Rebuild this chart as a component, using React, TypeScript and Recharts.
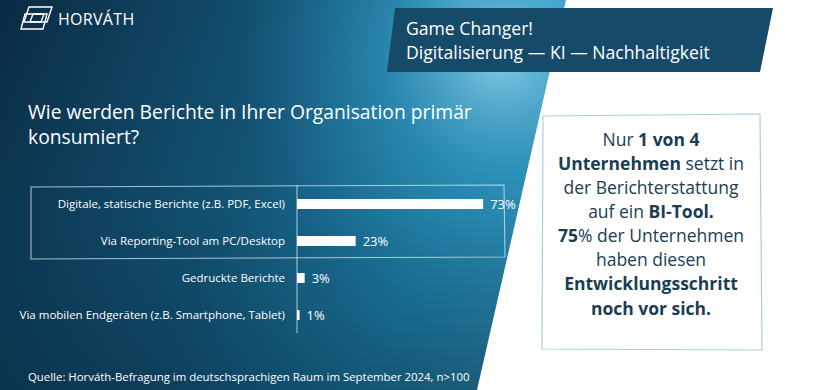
import { Bar, BarChart, LabelList, XAxis, YAxis } from "recharts";

const FONT = "'Open Sans', 'Noto Sans', sans-serif";

const categories = [
  "Digitale, statische Berichte (z.B. PDF, Excel)",
  "Via Reporting-Tool am PC/Desktop",
  "Gedruckte Berichte",
  "Via mobilen Endgeräten (z.B. Smartphone, Tablet)",
];
const shares = [73, 23, 3, 1];

const rows = categories.map((category, i) => ({ category, share: shares[i] }));

function CategoryTick({ x, y, payload }: { x?: number; y?: number; payload?: { value: string } }) {
  return (
    <text
      x={x}
      y={y}
      dy="0.36em"
      textAnchor="end"
      fill="#ffffff"
      fontSize={11.5}
      fontFamily={FONT}
    >
      {payload?.value}
    </text>
  );
}

function Backdrop() {
  return (
    <svg width={820} height={390} style={{ position: "absolute", left: 0, top: 0 }}>
      <defs>
        <linearGradient id="bgBase" x1="0" y1="0" x2="1" y2="0.25">
          <stop offset="0%" stopColor="#0a2a42" />
          <stop offset="40%" stopColor="#155b7e" />
          <stop offset="65%" stopColor="#2290bb" />
          <stop offset="100%" stopColor="#4db6dc" />
        </linearGradient>
        <radialGradient id="bgGlow" cx="500" cy="60" r="260" gradientUnits="userSpaceOnUse">
          <stop offset="0%" stopColor="#8fd3ee" stopOpacity={0.95} />
          <stop offset="45%" stopColor="#3aa6d0" stopOpacity={0.5} />
          <stop offset="100%" stopColor="#2a8fb8" stopOpacity={0} />
        </radialGradient>
        <linearGradient id="bgShade" x1="0" y1="0" x2="0" y2="1">
          <stop offset="0%" stopColor="#06243a" stopOpacity={0} />
          <stop offset="55%" stopColor="#06243a" stopOpacity={0.15} />
          <stop offset="100%" stopColor="#06243a" stopOpacity={0.55} />
        </linearGradient>
      </defs>
      <rect x={0} y={0} width={820} height={390} fill="url(#bgBase)" />
      <rect x={0} y={0} width={820} height={390} fill="url(#bgGlow)" />
      <rect x={0} y={0} width={820} height={390} fill="url(#bgShade)" />
      <polygon points="566,0 820,0 820,390 477,390" fill="#ffffff" />

      {/* logo */}
      <g fill="none" stroke="#ffffff" strokeWidth={1.4}>
        <polygon points="29,7 52,7 47,22 24,22" />
        <polygon points="25,14 47,14 43,29 21,29" />
        <polygon points="33,14 44,14 41,22 30,22" />
      </g>
      <text x={58} y={25} fill="#ffffff" fontFamily={FONT} fontSize={16} letterSpacing={0.3}>
        HORVÁTH
      </text>

      {/* banner */}
      <polygon points="395,8 773,8 760,72 387,72" fill="#154a69" />
      <text x={406} y={35} fill="#ffffff" fontFamily={FONT} fontSize={17.6}>
        Game Changer!
      </text>
      <text x={406} y={59} fill="#ffffff" fontFamily={FONT} fontSize={17.6}>
        Digitalisierung — KI — Nachhaltigkeit
      </text>

      {/* question */}
      <text x={28} y={119} fill="#ffffff" fontFamily={FONT} fontSize={19.3}>
        Wie werden Berichte in Ihrer Organisation primär
      </text>
      <text x={28} y={144} fill="#ffffff" fontFamily={FONT} fontSize={19.3}>
        konsumiert?
      </text>

      {/* highlight around the two digital answers */}
      <path
        d="M31,187 L504,185 L505,257 L31,259 Z"
        fill="none"
        stroke="rgba(215,235,245,0.75)"
        strokeWidth={1.1}
      />

      {/* key message box */}
      <path d="M543,116 L760,114 L762,350 L542,349 Z" fill="#ffffff" stroke="#a6cfe1" strokeWidth={1.2} />
      <g fontFamily={FONT} fontSize={17.5} fill="#1b3d52" textAnchor="middle">
        <text x={651} y={146}>
          Nur <tspan fontWeight={700}>1 von 4</tspan>
        </text>
        <text x={651} y={170}>
          <tspan fontWeight={700}>Unternehmen</tspan> setzt in
        </text>
        <text x={651} y={194}>der Berichterstattung</text>
        <text x={651} y={218}>
          auf ein <tspan fontWeight={700}>BI-Tool.</tspan>
        </text>
        <text x={651} y={242}>
          <tspan fontWeight={700}>75</tspan>% der Unternehmen
        </text>
        <text x={651} y={266}>haben diesen</text>
        <text x={651} y={290} fontWeight={700}>Entwicklungsschritt</text>
        <text x={651} y={315} fontWeight={700}>noch vor sich.</text>
      </g>

      <text x={28} y={381} fill="#ffffff" fontFamily={FONT} fontSize={11.4}>
        Quelle: Horváth-Befragung im deutschsprachigen Raum im September 2024, n&gt;100
      </text>
    </svg>
  );
}

export default function App() {
  return (
    <div
      style={{
        position: "absolute",
        left: 0,
        top: 0,
        width: 820,
        height: 390,
        overflow: "hidden",
        fontFamily: FONT,
      }}
    >
      <style>{"body{margin:0}"}</style>
      <Backdrop />
      <div style={{ position: "absolute", left: 0, top: 185 }}>
        <BarChart
          width={560}
          height={148}
          data={rows}
          layout="vertical"
          margin={{ top: 0, right: 8, bottom: 0, left: 0 }}
        >
          <XAxis type="number" domain={[0, 100]} hide />
          <YAxis
            type="category"
            dataKey="category"
            width={297}
            tickSize={0}
            tickMargin={12}
            tickLine={false}
            axisLine={{ stroke: "rgba(215,235,245,0.8)", strokeWidth: 1 }}
            tick={<CategoryTick />}
          />
          <Bar dataKey="share" fill="#ffffff" barSize={10} isAnimationActive={false}>
            <LabelList
              dataKey="share"
              position="right"
              offset={7}
              formatter={(v: number) => `${v}%`}
              style={{ fill: "#ffffff", fontSize: 13, fontFamily: FONT }}
            />
          </Bar>
        </BarChart>
      </div>
    </div>
  );
}
